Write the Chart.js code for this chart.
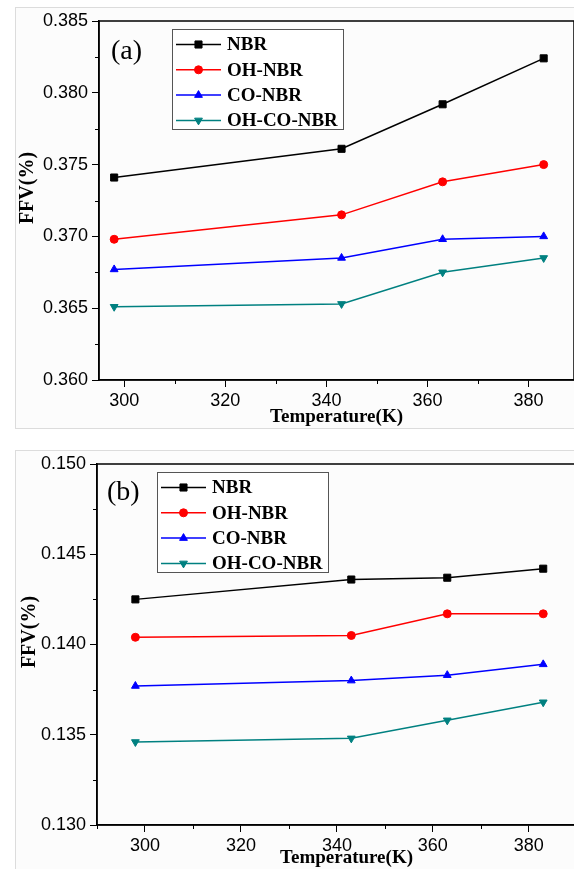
<!DOCTYPE html>
<html>
<head>
<meta charset="utf-8">
<script src="https://cdn.jsdelivr.net/npm/chart.js@4.4.1/dist/chart.umd.min.js"></script>
<style>
    html, body { margin: 0; padding: 0; width: 574px; height: 869px; overflow: hidden; background: #fff; }
    .marco { position: absolute; left: 15px; width: 620px; border: 1px solid #dcdcdc; background: #fcfcfc; }
    canvas { position: absolute; left: 0; }
</style>
</head>
<body>
<div class="marco" style="top:7px; height:420px;"></div>
<div class="marco" style="top:450px; height:440px;"></div>
<canvas id="grafica_a" width="580" height="430" style="top:0px"></canvas>
<canvas id="grafica_b" width="602" height="429" style="top:440px"></canvas>
<script>
// Datos
const temperaturas = [298, 343, 363, 383];
const series = ['NBR', 'OH-NBR', 'CO-NBR', 'OH-CO-NBR'];

// (a)
const ffv_a_nbr = [0.3741, 0.3761, 0.3792, 0.3824];
const ffv_a_oh = [0.3698, 0.3715, 0.3738, 0.3750];
const ffv_a_co = [0.3677, 0.3685, 0.3698, 0.3700];
const ffv_a_ohco = [0.3651, 0.3653, 0.3675, 0.3685];

// (b)
const ffv_b_nbr = [0.1425, 0.1436, 0.1437, 0.1442];
const ffv_b_oh = [0.1404, 0.1405, 0.1417, 0.1417];
const ffv_b_co = [0.1377, 0.1380, 0.1383, 0.1389];
const ffv_b_ohco = [0.1346, 0.1348, 0.1358, 0.1368];

// Marcas de los ejes
const ticks_x = [300, 320, 340, 360, 380];
const ticks_y_a = [0.360, 0.365, 0.370, 0.375, 0.380, 0.385];
const ticks_y_b = [0.130, 0.135, 0.140, 0.145, 0.150];

// Estilo de cada serie
const colores = ['#000000', '#ff0000', '#0000ff', '#008080'];
const marcadores = ['rect', 'circle', 'triangle', 'triangle'];
const rotaciones = [0, 0, 0, 180];
const radios = [5, 4, 4.5, 4.5];

const fuenteSerif = '"Liberation Serif", "Times New Roman", serif';
const fuenteSans = '"Liberation Sans", Arial, sans-serif';

function armarDatasets(valores) {
    return valores.map((v, i) => ({
        label: series[i],
        data: temperaturas.map((t, j) => ({ x: t, y: v[j] })),
        borderColor: colores[i],
        backgroundColor: colores[i],
        borderWidth: 1.5,
        pointStyle: marcadores[i],
        rotation: rotaciones[i],
        pointRadius: radios[i],
        pointBackgroundColor: colores[i],
        pointBorderColor: colores[i],
        pointBorderWidth: 1,
        tension: 0
    }));
}

// Marco, marcas menores, leyenda y etiqueta del panel
const pluginFigura = {
    id: 'figura',
    afterDraw(chart, args, opts) {
        const ctx = chart.ctx;
        const area = chart.chartArea;
        ctx.save();

        // marcas menores
        ctx.strokeStyle = '#000';
        ctx.lineWidth = 1;
        ['x', 'y'].forEach(id => {
            const sc = chart.scales[id];
            const tk = sc.ticks.map(t => t.value);
            const paso = tk[1] - tk[0];
            const menores = [tk[0] - paso / 2];
            tk.forEach(v => menores.push(v + paso / 2));
            menores.forEach(v => {
                if (v < sc.min - 1e-9 || v > sc.max + 1e-9) return;
                const p = Math.round(sc.getPixelForValue(v)) + 0.5;
                ctx.beginPath();
                if (id === 'x') {
                    ctx.moveTo(p, area.bottom);
                    ctx.lineTo(p, area.bottom + 4);
                } else {
                    ctx.moveTo(area.left, p);
                    ctx.lineTo(area.left - 4, p);
                }
                ctx.stroke();
            });
        });

        // marco completo
        ctx.lineWidth = 1.5;
        ctx.strokeRect(area.left, area.top, area.right - area.left, area.bottom - area.top);

        // etiqueta (a)/(b)
        ctx.fillStyle = '#000';
        ctx.font = '28px ' + fuenteSerif;
        ctx.textAlign = 'left';
        ctx.textBaseline = 'middle';
        ctx.fillText(opts.etiqueta, opts.etiquetaX, opts.etiquetaY);

        // leyenda
        const L = opts.leyendaX, T = opts.leyendaY;
        ctx.fillStyle = '#fff';
        ctx.fillRect(L, T, 171, 100);
        ctx.strokeStyle = '#555';
        ctx.lineWidth = 1;
        ctx.strokeRect(L + 0.5, T + 0.5, 171, 100);
        ctx.font = 'bold 19px ' + fuenteSerif;
        chart.data.datasets.forEach((ds, i) => {
            const y = T + 15.5 + i * 25.3;
            ctx.strokeStyle = ds.borderColor;
            ctx.fillStyle = ds.borderColor;
            ctx.lineWidth = 1.5;
            ctx.beginPath();
            ctx.moveTo(L + 4, y);
            ctx.lineTo(L + 49, y);
            ctx.stroke();
            ctx.lineWidth = 1;
            Chart.helpers.drawPoint(ctx, {
                pointStyle: ds.pointStyle,
                radius: ds.pointRadius,
                rotation: ds.rotation,
                borderWidth: 1
            }, L + 26.5, y);
            ctx.fillStyle = '#000';
            ctx.fillText(ds.label, L + 55, y + 1);
        });
        ctx.restore();
    }
};

function dibujarGrafico(idCanvas, valores, ticksY, cfg) {
    const ctx = document.getElementById(idCanvas).getContext('2d');
    return new Chart(ctx, {
        type: 'line',
        data: { datasets: armarDatasets(valores) },
        plugins: [pluginFigura],
        options: {
            responsive: false,
            animation: false,
            devicePixelRatio: 1,
            layout: { padding: { top: cfg.arriba, left: 0, right: 0, bottom: 0 } },
            plugins: {
                legend: { display: false },
                tooltip: { enabled: false },
                figura: cfg.figura
            },
            scales: {
                x: {
                    type: 'linear',
                    min: cfg.xMin,
                    max: cfg.xMax,
                    afterBuildTicks: sc => { sc.ticks = ticks_x.map(v => ({ value: v })); },
                    afterFit: sc => { sc.height = cfg.altoX; },
                    grid: { drawOnChartArea: false, color: '#000', tickLength: 7, lineWidth: 1 },
                    border: { color: '#000', width: 1.5 },
                    ticks: {
                        color: '#000',
                        padding: 3,
                        font: { family: fuenteSans, size: 18 },
                        callback: v => String(v)
                    },
                    title: {
                        display: true,
                        text: 'Temperature(K)',
                        color: '#000',
                        font: { family: fuenteSerif, size: 19, weight: 'bold' },
                        padding: { top: 0, bottom: cfg.tituloX }
                    }
                },
                y: {
                    type: 'linear',
                    min: ticksY[0],
                    max: ticksY[ticksY.length - 1],
                    afterBuildTicks: sc => { sc.ticks = ticksY.map(v => ({ value: v })); },
                    afterFit: sc => { sc.width = cfg.anchoY; },
                    grid: { drawOnChartArea: false, color: '#000', tickLength: 7, lineWidth: 1 },
                    border: { color: '#000', width: 1.5 },
                    ticks: {
                        color: '#000',
                        padding: 4,
                        font: { family: fuenteSans, size: 18 },
                        callback: v => v.toFixed(3)
                    },
                    title: {
                        display: true,
                        text: '     FFV(%)',
                        color: '#000',
                        font: { family: fuenteSerif, size: 20, weight: 'bold' },
                        padding: { top: cfg.tituloY, bottom: 0 }
                    }
                }
            }
        }
    });
}

dibujarGrafico('grafica_a', [ffv_a_nbr, ffv_a_oh, ffv_a_co, ffv_a_ohco], ticks_y_a, {
    xMin: 295, xMax: 389, arriba: 21, altoX: 50, anchoY: 99, tituloX: 2, tituloY: 16,
    figura: { etiqueta: '(a)', etiquetaX: 111, etiquetaY: 52, leyendaX: 172, leyendaY: 29 }
});

dibujarGrafico('grafica_b', [ffv_b_nbr, ffv_b_oh, ffv_b_co, ffv_b_ohco], ticks_y_b, {
    xMin: 290, xMax: 394, arriba: 24, altoX: 44, anchoY: 97, tituloX: 0, tituloY: 18,
    figura: { etiqueta: '(b)', etiquetaX: 107, etiquetaY: 53, leyendaX: 157, leyendaY: 32 }
});
</script>
</body>
</html>
